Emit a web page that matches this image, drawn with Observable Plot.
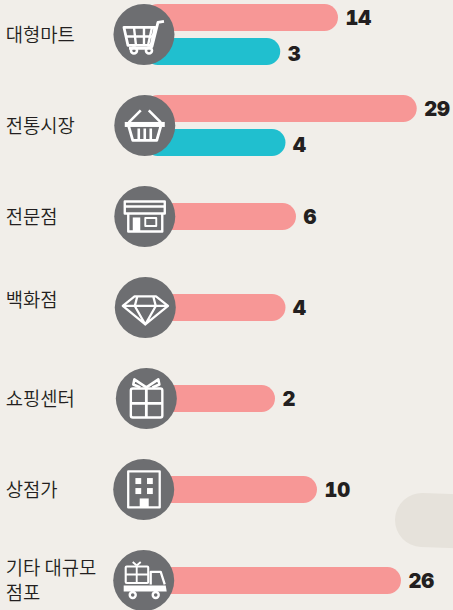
<!DOCTYPE html>
<html><head><meta charset="utf-8">
<script src="https://cdn.jsdelivr.net/npm/d3@7"></script>
<script src="https://cdn.jsdelivr.net/npm/@observablehq/plot@0.6"></script>
<style>
html,body{margin:0;padding:0;background:#f1eee9;overflow:hidden;width:453px;height:610px}
#blob{position:absolute;left:395px;top:494px;width:110px;height:54px;border-radius:27px;background:#e6e2db;transform:rotate(2deg)}
#c{position:absolute;left:0;top:0}
svg{background:transparent!important;display:block}
</style></head><body>
<div id="blob"></div><div id="c"></div>
<script>
const categories = ["대형마트","전통시장","전문점","백화점","쇼핑센터","상점가","기타 대규모\n점포"];
const pinkValues = [14,29,6,4,2,10,26];
const tealValues = [3,4,null,null,null,null,null];
const labelRowShift = [0,0,0,-0.08,0,0,0];
const iconColumn = [-23.05,-22.9,-22.9,-22.8,-22.6,-23.1,-23.1];
const barBase = -22.9;
const pink="#f79796", teal="#20bfcf", grey="#6d6e71", ink="#231f20";

const S=(w=2.4)=>`fill="none" stroke="#fff" stroke-width="${w}" stroke-linejoin="round"`;
const W='fill="#fff"';
const wrap=b=>"data:image/svg+xml,"+encodeURIComponent(`<svg xmlns="http://www.w3.org/2000/svg" width="60" height="60" viewBox="0 0 60 60">${b}</svg>`);
const icons=[
 `<path ${S(2.8)} d="M10,23H41L37,41H14Z"/><path ${S(2.4)} d="M20,23L22,41M30,23V41M38,23L34,41M12,32H39"/><path ${S(2.8)} d="M50,17L44,18L38,42L36,44H15"/><circle cx="20" cy="46" r="3" ${S(2.6)}/><circle cx="35" cy="46" r="3" ${S(2.6)}/>`,
 `<rect x="10" y="26.5" width="40" height="5" ${W}/><path ${S(2.8)} d="M14,31L18,45H42L46,31"/><path ${S(2.6)} d="M24,33V44M30,33V44M36,33V44M26,15L14,27M34,15L46,27"/>`,
 `<path ${S()} d="M10,15H50V27H10ZM10,20H50M13.5,27V45H47.5V27"/><rect x="18" y="31" width="7.5" height="14" ${W}/><rect x="30.5" y="31.5" width="11" height="8" ${S(1.9)}/>`,
 `<path ${S(2.3)} d="M7.5,28.5L19.3,19H40.7L52.7,28.5L30,47ZM7.5,28.5H52.7M22,19L19.5,28.5L30,47L40.5,28.5L38,19"/>`,
 `<rect x="14.5" y="20" width="31.5" height="29" rx="2" ${S(2.4)}/><path ${S(2.8)} d="M30,20V49M14.5,35H46"/><path ${S(2.6)} d="M30,19L18,11L17,16L24,19M30,19L42,11L43,16L36,19"/>`,
 `<rect x="14.5" y="12" width="31.5" height="36" ${S(2.3)}/><g ${W}><rect x="21.7" y="18.6" width="5.8" height="6"/><rect x="33.3" y="18.6" width="5.8" height="6"/><rect x="21.7" y="28.6" width="5.8" height="6"/><rect x="33.3" y="28.6" width="5.8" height="6"/><rect x="26" y="39" width="9" height="9"/></g>`,
 `<rect x="12" y="16" width="22.5" height="16.5" rx="1" ${S(2.1)}/><path ${S(1.9)} d="M23,16V32.5M12,24H34.5M23,15L19,11.5M23,15L27,11.5"/><path ${S(2.3)} d="M37,34V21.5H47L51,34"/><path ${W} d="M10,35H52L53,41H10Z"/><g fill="${grey}" stroke="#fff" stroke-width="2.4"><circle cx="19" cy="44.5" r="3"/><circle cx="42" cy="44.5" r="3"/></g>`
].map(wrap);

const rows=categories.map((c,i)=>({c,i,pink:pinkValues[i],teal:tealValues[i],two:tealValues[i]!=null}));
const bars=rows.flatMap(d=>[
  {i:d.i,v:d.pink,k:"p",off:d.two?-0.187:0,t:d.two?-0.187:0},
  ...(d.two?[{i:d.i,v:d.teal,k:"t",off:0.187,t:0.2}]:[])
]);
const half=0.148;
const chart=Plot.plot({
  width:453,height:610,margin:0,
  style:{background:"transparent"},
  x:{domain:[-50.38,35.91],range:[0,453],axis:null},
  y:{domain:[-0.3786,6.3247],range:[0,610],axis:null},
  marks:[
    Plot.rect(bars,{x1:barBase,x2:"v",y1:d=>d.i+d.off-half,y2:d=>d.i+d.off+half,fill:d=>d.k==="p"?pink:teal,rx:13.5}),
    Plot.dot(rows,{x:d=>iconColumn[d.i],y:"i",r:30.5,dy:-0.5,fill:grey}),
    Plot.image(rows,{x:d=>iconColumn[d.i],y:"i",src:d=>icons[d.i],width:60,height:60,dy:-0.5}),
    Plot.text(rows,{x:-49.4,y:d=>d.i+labelRowShift[d.i]-0.012,text:"c",textAnchor:"start",lineAnchor:"middle",lineHeight:1.3,fontSize:18.8,fontFamily:"'Noto Sans CJK KR'",fontWeight:350,fill:ink}),
    Plot.text(bars,{x:"v",y:d=>d.i+d.t+0.012,text:"v",textAnchor:"start",dx:7,fontSize:20,fontFamily:"Inter",fontWeight:900,fill:ink})
  ]
});
document.getElementById("c").append(chart);
</script></body></html>
